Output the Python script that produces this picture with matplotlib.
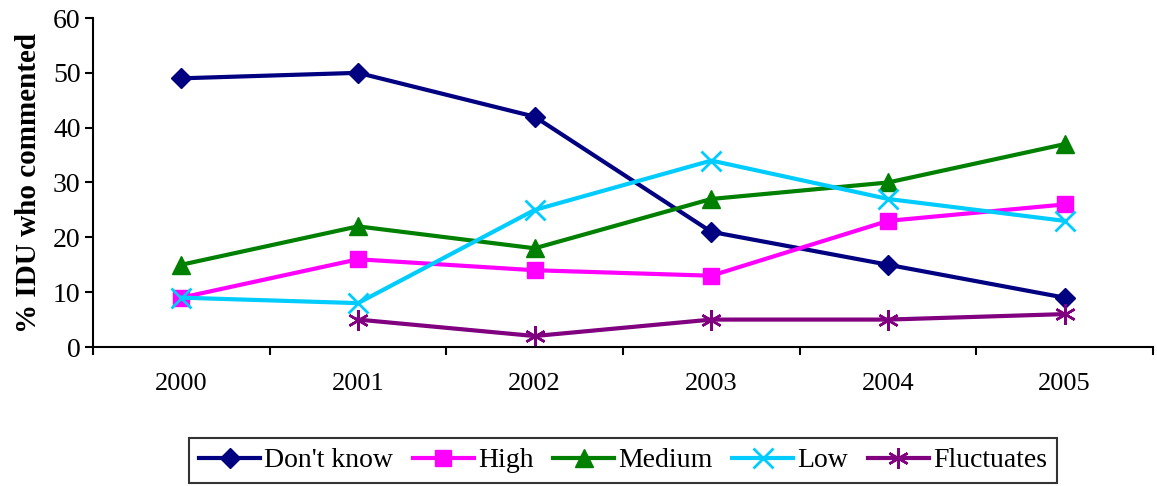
import matplotlib
matplotlib.use("Agg")
import matplotlib.pyplot as plt
import numpy as np

years = ["2000", "2001", "2002", "2003", "2004", "2005"]
dont_know = [49, 50, 42, 21, 15, 9]
high = [9, 16, 14, 13, 23, 26]
medium = [15, 22, 18, 27, 30, 37]
low = [9, 8, 25, 34, 27, 23]
fluctuates = [np.nan, 5, 2, 5, 5, 6]

plt.rcParams['font.family'] = ['Liberation Serif', 'DejaVu Serif']

fig = plt.figure(figsize=(11.57, 4.86), dpi=100)
ax = fig.add_axes([93/1157, 139/486, 1060/1157, 329/486])

x = np.arange(len(years))
lw = 3.0
ax.plot(x, dont_know, color='#000080', lw=lw, marker='D', ms=10, label="Don't know")
ax.plot(x, high, color='#FF00FF', lw=lw, marker='s', ms=12, label="High")
ax.plot(x, medium, color='#008000', lw=lw, marker='^', ms=13, label="Medium")
ax.plot(x, low, color='#00CCFF', lw=lw, marker='x', ms=14, mew=2.0, label="Low")
ax.plot(x, fluctuates, color='#800080', lw=lw, marker=(6, 2, 0), ms=15, mew=1.8, label="Fluctuates")

ax.set_xlim(-0.5, len(years) - 0.5)
ax.set_ylim(0, 60)
ax.set_yticks(range(0, 61, 10))
ax.set_xticks(np.arange(-0.5, len(years)), minor=False)
ax.set_xticklabels([])
ax.set_xticks(x, minor=True)
ax.set_xticklabels(years, minor=True)
ax.tick_params(axis='x', which='major', direction='out', length=6, width=1.5)
ax.tick_params(axis='x', which='minor', length=0, pad=19, labelsize=19)
ax.tick_params(axis='y', direction='out', length=6, width=1.5, labelsize=20, pad=3)

for s in ['top', 'right']:
    ax.spines[s].set_visible(False)
for s in ['left', 'bottom']:
    ax.spines[s].set_linewidth(1.5)

ax.set_ylabel('% IDU who commented', fontsize=21, fontweight='bold', labelpad=8)

leg = ax.legend(loc='upper center', bbox_to_anchor=(0.5, -0.235), ncol=5,
                fontsize=20, frameon=True, fancybox=False, edgecolor='black',
                handlelength=2.2, handletextpad=0.15, columnspacing=0.7,
                borderpad=0.35)
leg.get_frame().set_linewidth(1.5)

fig.savefig('out.png', dpi=100)
